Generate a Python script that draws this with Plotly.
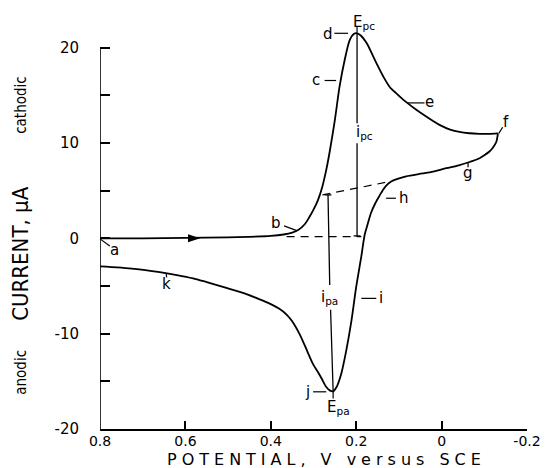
import plotly.graph_objects as go

# ---------------- data ----------------
potential_forward = [0.80, 0.70, 0.60, 0.50, 0.45, 0.40, 0.37, 0.35, 0.335, 0.32, 0.31, 0.30,
                     0.29, 0.28, 0.27, 0.262, 0.250, 0.239, 0.227, 0.215, 0.205, 0.198, 0.190,
                     0.176, 0.153, 0.137, 0.122, 0.106, 0.090, 0.079, 0.060, 0.044, 0.020, 0.005,
                     -0.020, -0.042, -0.065, -0.089, -0.110, -0.132]
current_forward = [0.0, 0.0, 0.05, 0.1, 0.15, 0.25, 0.4, 0.6, 0.9, 1.5, 2.2, 3.0,
                   3.95, 5.3, 7.2, 9.1, 12.4, 15.9, 18.7, 20.8, 21.45, 21.5, 21.3,
                   20.5, 18.4, 17.0, 15.9, 15.2, 14.55, 14.15, 13.5, 13.0, 12.3, 11.9,
                   11.4, 11.15, 11.02, 10.96, 10.95, 11.0]

potential_reverse = [-0.132, -0.128, -0.120, -0.112, -0.100, -0.089, -0.062, -0.040, -0.011, 0.020,
                     0.044, 0.083, 0.105, 0.118, 0.128, 0.137, 0.145, 0.155, 0.165, 0.173, 0.180,
                     0.188, 0.200, 0.211, 0.223, 0.235, 0.246, 0.254, 0.262, 0.270, 0.281, 0.290,
                     0.301, 0.315, 0.332, 0.350, 0.363, 0.380, 0.400, 0.426, 0.460, 0.504, 0.550,
                     0.582, 0.620, 0.660, 0.720, 0.800]
current_reverse = [11.0, 10.1, 9.5, 9.1, 8.7, 8.4, 7.95, 7.65, 7.35, 7.0,
                   6.8, 6.5, 6.2, 5.95, 5.6, 5.1, 4.5, 3.7, 2.7, 1.5, 0.4,
                   -1.9, -5.1, -8.6, -11.7, -14.2, -15.6, -16.05, -15.95, -15.6, -14.7, -14.0,
                   -13.2, -11.8, -10.1, -8.7, -8.0, -7.4, -6.9, -6.4, -5.8, -5.2, -4.6,
                   -4.2, -3.85, -3.55, -3.2, -2.95]

x_tick_values = [0.8, 0.6, 0.4, 0.2, 0.0, -0.2]
x_tick_labels = ["0.8", "0.6", "0.4", "0.2", "0", "-0.2"]
y_tick_values = [-20, -10, 0, 10, 20]
y_tick_labels = ["-20", "-10", "0", "10", "20"]

# scan-direction arrow on the forward sweep
arrow_potential = [0.565]
arrow_current = [0.0]

# baselines used to measure the peak currents
cathodic_baseline_x = [0.363, 0.188]
cathodic_baseline_y = [0.17, 0.17]
anodic_baseline_x = [0.279, 0.122]
anodic_baseline_y = [4.55, 5.95]

# peak-current measuring bars (upper/lower parts, broken by their labels)
ipc_x = [0.198, 0.198, None, 0.198, 0.198, None, 0.206, 0.190]
ipc_y = [21.5, 12.07, None, 9.97, 0.25, None, 0.25, 0.25]
ipa_x = [0.274, 0.258, None, 0.266, 0.262, None, 0.260, 0.254]
ipa_y = [4.55, 4.55, None, 4.55, -4.9, None, -7.5, -16.05]

# point labels: (text, x, y) and their leader lines
point_labels = [("a", 0.765, -1.2), ("b", 0.387, 1.64), ("c", 0.293, 16.6), ("d", 0.266, 21.45),
                ("e", 0.028, 14.3), ("f", -0.150, 12.15), ("g", -0.062, 6.8), ("h", 0.089, 4.2),
                ("i", 0.141, -6.3), ("j", 0.313, -16.1), ("k", 0.644, -4.75)]
leader_x = [0.800, 0.777, None, 0.369, 0.339, None, 0.274, 0.247, None, 0.251, 0.219, None,
            0.079, 0.040, None, -0.134, -0.143, None, -0.062, -0.062, None, 0.130, 0.107, None,
            0.188, 0.153, None, 0.301, 0.270, None, 0.645, 0.644, None,
            0.198, 0.198, None, 0.254, 0.254]
leader_y = [-0.06, -0.8, None, 1.3, 0.8, None, 16.55, 16.55, None, 21.5, 21.5, None,
            14.2, 14.2, None, 11.0, 11.65, None, 7.94, 7.45, None, 4.2, 4.2, None,
            -6.3, -6.3, None, -16.1, -16.1, None, -3.65, -4.1, None,
            21.5, 22.2, None, -16.05, -16.8]

peak_labels = [("E<sub>pc</sub>", 0.213, 22.6), ("i<sub>pc</sub>", 0.2045, 11.1),
               ("i<sub>pa</sub>", 0.2865, -6.2), ("E<sub>pa</sub>", 0.274, -17.7)]

FONT = "DejaVu Sans, Verdana, sans-serif"
NARROW = "Liberation Sans Narrow, DejaVu Sans Condensed, Arial Narrow, Roboto, sans-serif"

fig = go.Figure()
curve_line = dict(color="black", width=1.8, shape="spline", smoothing=0.8)
fig.add_trace(go.Scatter(x=potential_forward, y=current_forward, mode="lines", line=curve_line,
                         hoverinfo="skip", showlegend=False))
fig.add_trace(go.Scatter(x=potential_reverse, y=current_reverse, mode="lines", line=curve_line,
                         hoverinfo="skip", showlegend=False))
fig.add_trace(go.Scatter(x=arrow_potential, y=arrow_current, mode="markers",
                         marker=dict(symbol="arrow", angle=90, size=13, color="black",
                                     line=dict(width=0)),
                         hoverinfo="skip", showlegend=False))
fig.add_trace(go.Scatter(x=cathodic_baseline_x, y=cathodic_baseline_y, mode="lines",
                         line=dict(color="black", width=1.2, dash="8px,6px"),
                         hoverinfo="skip", showlegend=False))
fig.add_trace(go.Scatter(x=anodic_baseline_x, y=anodic_baseline_y, mode="lines",
                         line=dict(color="black", width=1.2, dash="8px,6px"),
                         hoverinfo="skip", showlegend=False))
fig.add_trace(go.Scatter(x=ipc_x, y=ipc_y, mode="lines", line=dict(color="black", width=1.3),
                         hoverinfo="skip", showlegend=False))
fig.add_trace(go.Scatter(x=ipa_x, y=ipa_y, mode="lines", line=dict(color="black", width=1.3),
                         hoverinfo="skip", showlegend=False))
fig.add_trace(go.Scatter(x=leader_x, y=leader_y, mode="lines", line=dict(color="black", width=1.2),
                         hoverinfo="skip", showlegend=False))

for txt, x, y in point_labels:
    fig.add_annotation(x=x, y=y, xref="x", yref="y", text=txt, showarrow=False,
                       font=dict(family=FONT, size=15, color="black"),
                       xanchor="center", yanchor="middle")
for txt, x, y in peak_labels:
    fig.add_annotation(x=x, y=y, xref="x", yref="y", text=txt, showarrow=False,
                       font=dict(family=FONT, size=15, color="black"),
                       xanchor="left", yanchor="middle")

# y-axis line from -20 to 20
fig.add_shape(type="line", xref="x", yref="y", x0=0.8, x1=0.8, y0=-20, y1=20,
              line=dict(color="black", width=1.6))

# axis titles and side notes (paper coordinates: y_paper = (current + 20) / 43)
side_notes = [("CURRENT, μA", -0.187, -1.6, 22), ("cathodic", -0.185, 14.0, 15),
              ("anodic", -0.185, -14.1, 15)]
for txt, xp, yc, fs in side_notes:
    fig.add_annotation(x=xp, y=(yc + 20) / 43, xref="paper", yref="paper", text=txt,
                       textangle=-90, showarrow=False, xanchor="center", yanchor="middle",
                       font=dict(family=NARROW, size=fs, color="black"))
fig.add_annotation(x=(0.8 - 0.269), y=(-23.2 + 20) / 43, xref="paper", yref="paper",
                   text='<span style="letter-spacing:5px">POTENTIAL, V versus SCE</span>',
                   showarrow=False, font=dict(family=FONT, size=16, color="black"),
                   xanchor="center", yanchor="middle")

fig.update_xaxes(range=[0.8, -0.2], showline=True, linecolor="black", linewidth=1.6,
                 ticks="inside", ticklen=8, tickwidth=1.5, tickcolor="black",
                 tickvals=x_tick_values, ticktext=x_tick_labels, ticklabelstandoff=-2,
                 tickfont=dict(family=FONT, size=14, color="black"),
                 showgrid=False, zeroline=False, automargin=False)
fig.update_yaxes(range=[-20, 23], showline=False, ticks="inside", ticklen=10, tickwidth=1.5,
                 tickcolor="black", tickvals=y_tick_values, ticktext=y_tick_labels,
                 ticklabelstandoff=20, tickfont=dict(family=FONT, size=15, color="black"),
                 minor=dict(tick0=0, dtick=5, ticks="inside", ticklen=10, tickwidth=1.5,
                            tickcolor="black", showgrid=False),
                 showgrid=False, zeroline=False, automargin=False)
fig.update_layout(width=545, height=468, margin=dict(l=100, r=18, t=19, b=39, pad=0),
                  plot_bgcolor="white", paper_bgcolor="white")

fig.write_html("out.html", config={"displayModeBar": False},
               post_script="document.body.style.margin='0px';")
